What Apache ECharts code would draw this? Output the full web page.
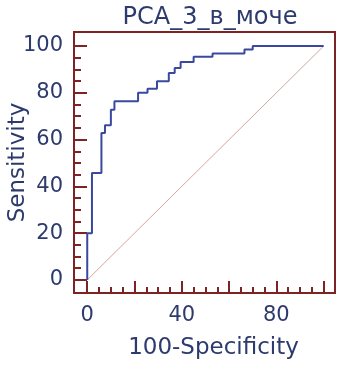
<!DOCTYPE html>
<html>
<head>
<meta charset="utf-8">
<script src="https://cdn.jsdelivr.net/npm/echarts@6/dist/echarts.min.js"></script>
<style>
	html, body { margin: 0; padding: 0; background: #fff; }
	#roc { width: 344px; height: 366px; }
</style>
</head>
<body>
<div id="roc"></div>
<script>
// corners of the ROC staircase (rise happens at each fpr value)
var fpr = [0, 0, 2, 6, 7.5, 10, 11.5, 21.5, 25.5, 29.5, 34.5, 37, 39.5, 45, 53, 66.5, 70, 100];
var tpr = [0, 20, 45.7, 62.8, 66.1, 72.8, 76.4, 80, 81.7, 84.9, 88.5, 90.6, 93.2, 95.4, 96.8, 98.5, 100, 100];
var diagX = [0, 100];
var diagY = [0, 100];

var majorTicks = [0, 20, 40, 60, 80, 100];
var minorTicks = [0, 5, 10, 15, 20, 25, 30, 35, 40, 45, 50, 55, 60, 65, 70, 75, 80, 85, 90, 95, 100];
var xLabels = [0, 40, 80];
var yLabels = [0, 20, 40, 60, 80, 100];

var navy = '#2d3a6e';
var maroon = '#7d2323';

function draw_roc(idname) {
	let mychart = echarts.init(document.getElementById(idname));

	var curve = [];
	for (var i = 0; i < fpr.length; i++) {
		curve.push([fpr[i], tpr[i]]);
		if (i + 1 < fpr.length) {
			curve.push([fpr[i + 1], tpr[i]]);
		}
	}
	var diag = [];
	for (var j = 0; j < diagX.length; j++) {
		diag.push([diagX[j], diagY[j]]);
	}

	let option = {
		animation: false,
		title: {
			text: 'PCA_3_в_моче',
			left: 205,
			textAlign: 'center',
			top: 1,
			textStyle: {
				color: navy,
				fontFamily: 'DejaVu Sans',
				fontSize: 24,
				fontWeight: 'normal'
			}
		},
		grid: {
			left: 74,
			top: 32,
			width: 261,
			height: 261,
			outerBoundsMode: 'none',
			containLabel: false,
			show: true,
			borderColor: maroon,
			borderWidth: 2
		},
		xAxis: [{
			type: 'value',
			min: -5.6,
			max: 104.8,
			position: 'bottom',
			name: '100-Specificity',
			nameLocation: 'middle',
			nameGap: 44,
			nameMoveOverlap: false,
			nameTextStyle: {
				color: navy,
				fontFamily: 'DejaVu Sans',
				fontSize: 23,
				padding: [0, 0, 0, 18]
			},
			axisLine: { show: false, onZero: false },
			splitLine: { show: false },
			axisTick: {
				show: true,
				inside: true,
				length: 12,
				customValues: majorTicks,
				lineStyle: { color: maroon, width: 2 }
			},
			axisLabel: {
				customValues: xLabels,
				color: navy,
				fontFamily: 'DejaVu Sans',
				fontSize: 21,
				margin: 12
			}
		}, {
			type: 'value',
			min: -5.6,
			max: 104.8,
			position: 'bottom',
			axisLine: { show: false, onZero: false },
			splitLine: { show: false },
			axisLabel: { show: false },
			axisTick: {
				show: true,
				inside: true,
				length: 6,
				customValues: minorTicks,
				lineStyle: { color: maroon, width: 2 }
			}
		}],
		yAxis: [{
			type: 'value',
			min: -5.6,
			max: 106,
			position: 'left',
			name: 'Sensitivity',
			nameLocation: 'middle',
			nameGap: 44,
			nameMoveOverlap: false,
			nameTextStyle: {
				color: navy,
				fontFamily: 'DejaVu Sans',
				fontSize: 23
			},
			axisLine: { show: false, onZero: false },
			splitLine: { show: false },
			axisTick: {
				show: true,
				inside: true,
				length: 13,
				customValues: majorTicks,
				lineStyle: { color: maroon, width: 2 }
			},
			axisLabel: {
				customValues: yLabels,
				color: navy,
				fontFamily: 'DejaVu Sans',
				fontSize: 21,
				margin: 11
			}
		}, {
			type: 'value',
			min: -5.6,
			max: 106,
			position: 'left',
			axisLine: { show: false, onZero: false },
			splitLine: { show: false },
			axisLabel: { show: false },
			axisTick: {
				show: true,
				inside: true,
				length: 7,
				customValues: minorTicks,
				lineStyle: { color: maroon, width: 2 }
			}
		}],
		series: [{
			type: 'line',
			data: diag,
			symbol: 'none',
			lineStyle: { color: '#d4a4a4', width: 1 }
		}, {
			type: 'line',
			data: curve,
			symbol: 'none',
			lineStyle: { color: '#3a49a0', width: 2 }
		}]
	};

	mychart.setOption(option);
}

draw_roc('roc');
</script>
</body>
</html>
